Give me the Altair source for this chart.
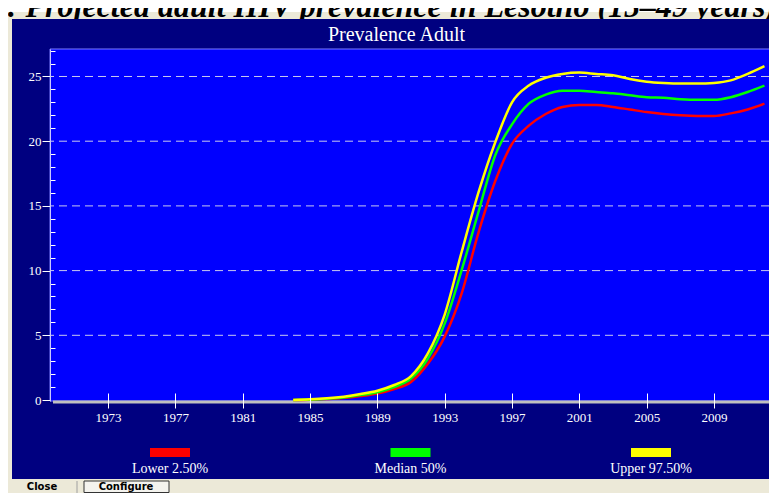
import altair as alt
import pandas as pd

# ---------------- data ----------------
years = [1984, 1985, 1986, 1987, 1988, 1989, 1990, 1991, 1992, 1993,
         1994, 1995, 1996, 1997, 1998, 1999, 2000, 2001, 2002, 2003,
         2004, 2005, 2006, 2007, 2008, 2009, 2010, 2011, 2012]
lower = [0.0, 0.02, 0.07, 0.15, 0.30, 0.50, 0.85, 1.40, 2.80, 4.90,
         8.20, 12.90, 16.90, 19.80, 21.20, 22.10, 22.65, 22.80, 22.80, 22.65,
         22.45, 22.25, 22.10, 22.00, 21.95, 21.95, 22.15, 22.45, 22.90]
median = [0.0, 0.03, 0.10, 0.20, 0.38, 0.60, 1.00, 1.65, 3.20, 5.90,
          10.00, 14.50, 18.90, 21.30, 22.90, 23.60, 23.90, 23.90, 23.80, 23.70,
          23.55, 23.40, 23.35, 23.25, 23.20, 23.20, 23.40, 23.80, 24.30]
upper = [0.0, 0.05, 0.13, 0.26, 0.46, 0.72, 1.16, 1.85, 3.60, 6.60,
         11.40, 16.00, 19.90, 23.00, 24.30, 24.90, 25.20, 25.30, 25.20, 25.10,
         24.80, 24.60, 24.50, 24.45, 24.45, 24.50, 24.70, 25.20, 25.80]

series_names = ["Lower 2.50%", "Median 50%", "Upper 97.50%"]
series_colors = ["#FF0000", "#00FF00", "#FFFF00"]

x_tick_years = [1973, 1977, 1981, 1985, 1989, 1993, 1997, 2001, 2005, 2009]
y_major = [0, 5, 10, 15, 20, 25]
y_minor = [1, 2, 3, 4, 6, 7, 8, 9, 11, 12, 13, 14, 16, 17, 18, 19,
           21, 22, 23, 24, 26, 27]
grid_values = [5, 10, 15, 20, 25]

chart_title = "Prevalence Adult"
figure_caption = ": Projected adult HIV prevalence in Lesotho (15\u201349 years)"
button_close = "Close"
button_configure = "Configure"

# ---------------- tables ----------------
rows = []
for name, vals in zip(series_names, [lower, median, upper]):
    for yr, v in zip(years, vals):
        rows.append({"year": yr, "value": v, "series": name})
df = pd.DataFrame(rows)
grid_df = pd.DataFrame({"g": grid_values})
leg_df = pd.DataFrame({"series": series_names})
one = pd.DataFrame({"k": [0]})

# ---------------- styling ----------------
W, H = 719, 352
SERIF = "Liberation Serif"
NAVY = "#000080"
BLUE = "#0000FF"
BEIGE = "#ECE9D8"
WHITE = "#FFFFFF"

x_scale = alt.Scale(domain=[1969.55, 2012.27], nice=False, zero=False)
y_scale = alt.Scale(domain=[-0.077, 27.125], nice=False, zero=False)
color_scale = alt.Scale(domain=series_names, range=series_colors)


def box(x, x2, y, y2, **kw):
    return alt.Chart(one).mark_rect(**kw).encode(
        x=alt.value(x), x2=alt.value(x2), y=alt.value(y), y2=alt.value(y2))


def label(txt, x, y, **kw):
    return alt.Chart(one).mark_text(text=txt, **kw).encode(
        x=alt.value(x), y=alt.value(y))


white_top = box(-50, 740, -50, -37, color=WHITE)
caption = label(figure_caption, 726, -32, font=SERIF, fontSize=32,
                fontWeight="bold", fontStyle="italic", color="#000000",
                align="right", baseline="alphabetic")
navy = box(-38, 740, -30, 430, color=NAVY)
plot_bg = box(0, 740, 0, 352, fill=BLUE, stroke="#7C7CFF", strokeWidth=1)

grid = alt.Chart(grid_df).mark_rule(
    color="#C8C8F0", strokeDash=[8, 5], strokeWidth=1
).encode(
    y=alt.Y("g:Q", scale=y_scale,
            axis=alt.Axis(values=y_minor, orient="left", offset=-5, tickSize=5,
                          tickColor=WHITE, labels=False, domain=False,
                          grid=False, title=None, zindex=1))
)

gray_axis = alt.Chart(one).mark_rule(color="#C0C0C0", strokeWidth=3).encode(
    x=alt.value(3), x2=alt.value(740), y=alt.value(353))

lines = alt.Chart(df).mark_line(strokeWidth=2.5, interpolate="monotone").encode(
    x=alt.X("year:Q", scale=x_scale,
            axis=alt.Axis(values=x_tick_years, format="d", title=None,
                          orient="bottom", offset=-8, tickSize=15,
                          tickColor=WHITE, labelColor=WHITE, labelFont=SERIF,
                          labelFontSize=13, labelPadding=3, domain=False,
                          grid=False, zindex=1, labelFlush=False,
                          labelOverlap=False)),
    y=alt.Y("value:Q", scale=y_scale,
            axis=alt.Axis(values=y_major, title=None, orient="left",
                          tickSize=8, tickColor=WHITE, labelColor=WHITE,
                          labelFont=SERIF, labelFontSize=13, labelPadding=1,
                          domain=True, domainColor="#C8C8FF", grid=False,
                          zindex=1, labelFlush=False)),
    color=alt.Color("series:N", scale=color_scale, legend=None),
)

leg_x = alt.X("series:N",
              scale=alt.Scale(type="point", domain=series_names,
                              range=[120, 601], padding=0),
              axis=None)
leg_swatch = alt.Chart(leg_df).mark_tick(
    orient="horizontal", size=40, thickness=9, opacity=1
).encode(
    x=leg_x, y=alt.value(403.5),
    color=alt.Color("series:N", scale=color_scale, legend=None),
)
leg_text = alt.Chart(leg_df).mark_text(
    font=SERIF, fontSize=14, color=WHITE, baseline="middle", align="center"
).encode(x=leg_x, y=alt.value(420), text="series:N")

title_txt = label(chart_title, 346.5, -14, font=SERIF, fontSize=20,
                  color=WHITE, align="center", baseline="middle")

btn_conf = box(34, 119, 432, 443.5, fill="#F4F3EE", stroke="#333333",
               strokeWidth=1)
btn_sep = alt.Chart(one).mark_rule(color="#A0A0A0", strokeWidth=1).encode(
    x=alt.value(27), y=alt.value(432), y2=alt.value(444))
btn_conf_txt = label(button_configure, 76, 438, font="DejaVu Sans",
                     fontSize=10, fontWeight="bold", color="#000000",
                     align="center", baseline="middle")
btn_close_txt = label(button_close, -8, 438, font="DejaVu Sans",
                      fontSize=10, fontWeight="bold", color="#000000",
                      align="center", baseline="middle")

chart = alt.layer(
    white_top, caption, navy, plot_bg, grid, gray_axis, lines,
    leg_swatch, leg_text, title_txt,
    btn_conf, btn_sep, btn_conf_txt, btn_close_txt,
).resolve_scale(
    x="independent"
).resolve_axis(
    y="independent"
).properties(
    width=W, height=H,
    autosize=alt.AutoSizeParams(type="none"),
    padding={"left": 42, "top": 41, "right": 0, "bottom": 92},
    background=BEIGE,
).configure_view(stroke=None)

chart.save("out.html", embed_options={"renderer": "svg", "actions": False})
